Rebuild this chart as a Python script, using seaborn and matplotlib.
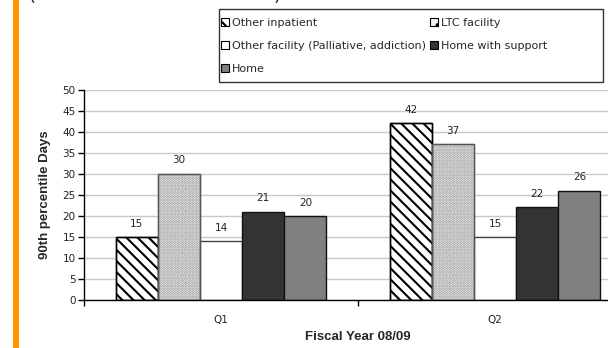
import matplotlib
matplotlib.use("Agg")
import matplotlib.pyplot as plt
from matplotlib.patches import Patch, Rectangle
import seaborn as sns
import pandas as pd

# Fiscal year 08/09 quarters and discharge destinations
quarters = ["Q1", "Q2"]
destinations = [
    "Other inpatient",
    "LTC facility",
    "Other facility (Palliative, addiction)",
    "Home with support",
    "Home",
]
other_inpatient = [15, 42]
ltc_facility = [30, 37]
other_facility = [14, 15]
home_with_support = [21, 22]
home = [20, 26]

yticks = list(range(0, 55, 5))

series = [other_inpatient, ltc_facility, other_facility, home_with_support, home]
df = pd.DataFrame(
    [(q, d, v[i]) for d, v in zip(destinations, series) for i, q in enumerate(quarters)],
    columns=["quarter", "destination", "days"],
)

face = {
    "Other inpatient": "white",
    "LTC facility": "#f4f4f4",
    "Other facility (Palliative, addiction)": "white",
    "Home with support": "#333333",
    "Home": "#808080",
}
hatch = {
    "Other inpatient": "\\\\\\",
    "LTC facility": "......",
    "Other facility (Palliative, addiction)": "",
    "Home with support": "",
    "Home": "",
}
# hatch colour follows the edge colour; outlines are drawn separately
hatch_edge = {
    "Other inpatient": "#000000",
    "LTC facility": "#999999",
    "Other facility (Palliative, addiction)": "#333333",
    "Home with support": "#111111",
    "Home": "#111111",
}
outline = {
    "Other inpatient": "#000000",
    "LTC facility": "#555555",
    "Other facility (Palliative, addiction)": "#444444",
    "Home with support": "#111111",
    "Home": "#111111",
}

sns.set_style("white")
plt.rcParams["font.family"] = ["DejaVu Sans"]
plt.rcParams["hatch.linewidth"] = 1.5

fig = plt.figure(figsize=(6.08, 3.48), dpi=100)
ax = fig.add_axes([84 / 608, 1 - 300 / 348, 548 / 608, (300 - 89.7) / 348])

sns.barplot(
    data=df, x="quarter", y="days", hue="destination",
    hue_order=destinations, order=quarters,
    palette=[face[d] for d in destinations], saturation=1,
    width=0.77, edgecolor="#111111", linewidth=1.0, legend=False, ax=ax,
)

for cont, d in zip(ax.containers, destinations):
    for bar in cont:
        bar.set_facecolor(face[d])
        bar.set_edgecolor(hatch_edge[d])
        if hatch[d]:
            bar.set_hatch(hatch[d])
            ax.add_patch(Rectangle(bar.get_xy(), bar.get_width(), bar.get_height(),
                                   fill=False, edgecolor=outline[d], linewidth=1.0, zorder=bar.get_zorder() + 0.1))
        else:
            bar.set_edgecolor(outline[d])
    ax.bar_label(cont, fmt="%d", padding=6, fontsize=7.5, color="#222222")

ax.set_ylim(0, 50)
ax.set_yticks(yticks)
ax.set_xlim(-0.5, 1.5)
ax.grid(axis="y", color="#c8c8c8", linewidth=1.0)
ax.set_axisbelow(True)
for s in ["top", "right"]:
    ax.spines[s].set_visible(False)
for s in ["left", "bottom"]:
    ax.spines[s].set_color("#000000")
    ax.spines[s].set_linewidth(1.0)

ax.tick_params(axis="y", which="major", left=True, length=4, width=1, color="#000000",
               labelsize=7.5, labelcolor="#222222", pad=2)
ax.set_xticks([-0.5, 0.5, 1.5], minor=True)
ax.tick_params(axis="x", which="major", bottom=False, labelsize=7.5, labelcolor="#222222", pad=7)
ax.tick_params(axis="x", which="minor", bottom=True, length=4, width=1, color="#000000")

ax.set_ylabel("90th percentile Days", fontsize=9.5, fontweight="bold",
              family=["Liberation Sans", "DejaVu Sans"], labelpad=8)
ax.set_xlabel("Fiscal Year 08/09", fontsize=9.5, fontweight="bold",
              family=["Liberation Sans", "DejaVu Sans"])
ax.xaxis.set_label_coords(0.5, -(337 - 300) / (300 - 89.7))
ax.xaxis.label.set_va("center")

# legend with its own box
handles = []
for d in destinations:
    handles.append(Patch(facecolor=face[d], edgecolor="#000000",
                         hatch=hatch[d][:2] if hatch[d] else "", linewidth=0.8, label=d))
order = [0, 2, 4, 1, 3]
fig.legend(
    [handles[i] for i in order], [destinations[i] for i in order],
    ncol=2, frameon=False, loc="upper left",
    bbox_to_anchor=(221 / 608, 1 - 18 / 348),
    fontsize=8, handlelength=0.75, handleheight=0.75, handletextpad=0.25,
    labelspacing=1.15, columnspacing=0.35, borderpad=0, borderaxespad=0,
)
fig.patches.append(Rectangle((219 / 608, 1 - 82 / 348), (603 - 219) / 608, (82 - 9) / 348,
                             transform=fig.transFigure, fill=False, edgecolor="#333333",
                             linewidth=1.0))

# orange margin stripe
fig.patches.append(Rectangle((13 / 608, 0), 6 / 608, 1, transform=fig.transFigure,
                             facecolor="#ff9900", edgecolor="none"))
# parentheses of the heading just above the chart
fig.text(28 / 608, 1 - 5 / 348, "(", fontsize=13, va="bottom", ha="left", color="#222222")
fig.text(274 / 608, 1 - 5 / 348, ")", fontsize=13, va="bottom", ha="left", color="#222222")

fig.savefig("out.png", dpi=100)
